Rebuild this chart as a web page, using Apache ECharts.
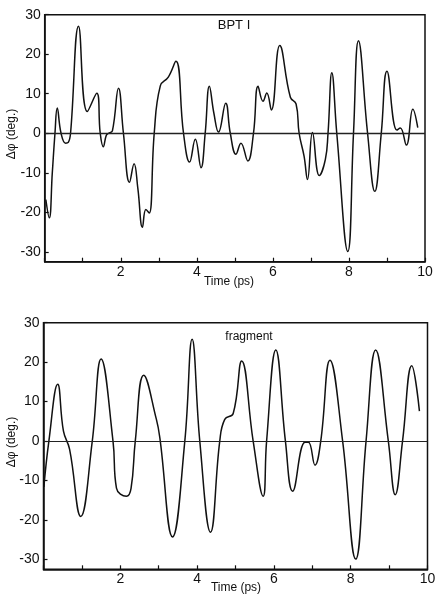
<!DOCTYPE html>
<html><head><meta charset="utf-8">
<script src="https://cdn.jsdelivr.net/npm/echarts@6/dist/echarts.min.js"></script>
<style>html,body{margin:0;padding:0;background:#fff}#c{width:436px;height:597px}</style>
</head><body><div id="c"></div>
<script>
// BPT I panel (time in ps, delta phi in degrees)
const topX = [0.03,0.12,0.2,0.27,0.33,0.43,0.55,0.62,0.68,0.89,1.12,1.37,1.46,1.54,1.62,1.68,1.78,1.94,2.07,2.23,2.35,2.45,2.57,2.66,2.75,2.88,3.04,3.25,3.45,3.65,3.81,3.96,4.11,4.22,4.33,4.45,4.57,4.76,4.88,5.03,5.16,5.34,5.49,5.61,5.74,5.84,5.96,6.18,6.46,6.61,6.69,6.82,6.91,7.04,7.22,7.38,7.45,7.55,7.68,7.97,8.12,8.25,8.49,8.68,8.85,9.0,9.26,9.35,9.51,9.68,9.81];
const topY = [-16.8,-21.4,-10,0,6.4,0,-2.5,-2.3,0,27.1,5.5,10.1,0,-3.4,-0.5,0,0.6,11.4,0,-12.4,-7.7,-14,-23.8,-19.3,-20.2,0,12,14.2,18.2,0,-7.3,-1.5,-8.7,0,11.9,5,0.3,7.6,0,-5.3,-2.5,-7.0,0,11.9,8.1,10.2,5.9,22.2,9.1,7.4,0,-5.8,-11.7,0.2,-10.7,-6.6,0,15.3,0,-29.9,0,23.4,0,-14.7,0,15.7,0.8,1.3,-3.0,6.1,1.4];
// fragment panel
const botX = [0.01,0.14,0.37,0.52,0.68,0.97,1.27,1.50,1.81,1.9,2.16,2.28,2.39,2.61,2.94,3.03,3.36,3.68,3.87,4.07,4.35,4.59,4.72,4.94,5.16,5.46,5.72,5.81,6.05,6.3,6.49,6.81,6.9,7.07,7.22,7.46,7.79,8.13,8.4,8.65,8.98,9.16,9.35,9.59,9.79];
const botY = [-11.6,0,14.4,2.5,-2.1,-19.1,0,20.8,0,-11.9,-14.0,-12,0,16.7,5.5,0.8,-24.3,0,25.8,0,-23.1,0,5.5,7.0,20.3,0,-14.0,0,23.1,0,-12.7,-0.3,-0.3,-6.1,0,20.5,0,-29.9,0,23.1,0,-13.6,0,19.1,7.6];
const yTicks = [-30,-20,-10,0,10,20,30];
const xLabels = [2,4,6,8,10];
const titles = ['BPT I','fragment'];
const xName = 'Time (ps)';
const yName = 'Δφ (deg.)';

const font = 'Liberation Sans';
const zip = (a,b)=>a.map((v,i)=>[v,b[i]]);
function xAxis(i){return {type:'value',gridIndex:i,min:0,max:10,interval:1,
  axisLine:{show:true,onZero:false,lineStyle:{color:'#111',width:1.5}},
  axisTick:{show:true,inside:true,length:4,lineStyle:{color:'#111',width:1.2}},
  axisLabel:{color:'#111',fontSize:14,fontFamily:font,margin:3,
    formatter:v=>xLabels.includes(v)?String(v):''},
  splitLine:{show:false}};}
function yAxis(i){return {type:'value',gridIndex:i,min:-32.5,max:30,
  axisLine:{show:true,onZero:false,lineStyle:{color:'#111',width:1.5}},
  axisTick:{show:true,inside:true,length:4,customValues:yTicks,lineStyle:{color:'#111',width:1.2}},
  axisLabel:{color:'#111',fontSize:14,fontFamily:font,margin:4,customValues:yTicks},
  splitLine:{show:false}};}
function series(i,xs,ys,zw){return {type:'line',xAxisIndex:i,yAxisIndex:i,data:zip(xs,ys),
  smooth:0.45,showSymbol:false,lineStyle:{color:'#111',width:1.5},
  markLine:{silent:true,symbol:'none',label:{show:false},lineStyle:{color:'#222',width:zw,type:'solid'},data:[{yAxis:0}]}};}
function txt(s,x,y,size,rot){return {type:'text',x:x,y:y,rotation:rot||0,
  style:{text:s,fontSize:size,fontFamily:font,fill:'#111',align:'center',verticalAlign:'middle'}};}
const chart = echarts.init(document.getElementById('c'),null,{renderer:'canvas'});
chart.setOption({
  backgroundColor:'#fff',animation:false,
  grid:[
    {left:44.7,top:14.7,width:380.3,height:247,show:true,borderColor:'#111',borderWidth:1.5,backgroundColor:'transparent',outerBoundsMode:'none',containLabel:false},
    {left:43.5,top:322.7,width:384,height:246.6,show:true,borderColor:'#111',borderWidth:1.5,backgroundColor:'transparent',outerBoundsMode:'none',containLabel:false}
  ],
  xAxis:[xAxis(0),xAxis(1)],
  yAxis:[yAxis(0),yAxis(1)],
  series:[series(0,topX,topY,1.4),series(1,botX,botY,1)],
  graphic:[
    txt(titles[0],234,25,13),
    txt(titles[1],249,337,12),
    txt(xName,229,282,12),
    txt(xName,236,588,12),
    txt(yName,12,134,12,Math.PI/2),
    txt(yName,12,442,12,Math.PI/2)
  ]
});
</script></body></html>
